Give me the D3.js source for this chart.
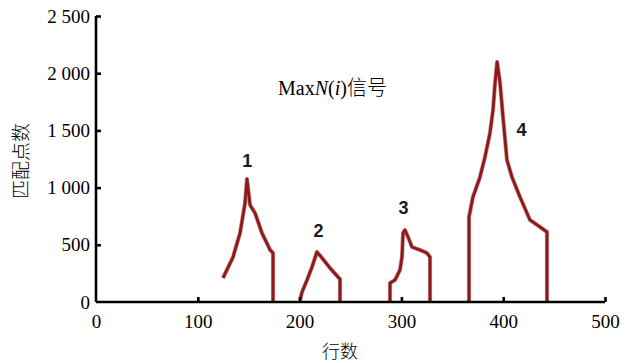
<!DOCTYPE html>
<html><head><meta charset="utf-8">
<script src="https://cdn.jsdelivr.net/npm/d3@7"></script>
<style>body{margin:0;background:#fff}svg{display:block}</style>
</head><body>
<svg id="c" width="630" height="363"></svg>
<script>
const xTicks = [0, 100, 200, 300, 400, 500];
const yTicks = [0, 500, 1000, 1500, 2000, 2500];
const peak1Rows = [124.8, 134.6, 141.5, 146.4, 148.3, 151.3, 156.2, 163, 171, 173.9, 173.9];
const peak1Vals = [210, 393, 603, 865, 1075, 848, 778, 603, 455, 428, 0];
const peak2Rows = [200.4, 202.4, 207.3, 212.2, 217, 222, 229.9, 237.7, 239.7, 239.7];
const peak2Vals = [17, 87, 192, 306, 437, 385, 297, 219, 201, 0];
const peak3Rows = [288.8, 288.8, 293.7, 298.6, 300.6, 301.6, 303.5, 306.5, 310.4, 318.3, 325.1, 328.1, 328.1];
const peak3Vals = [0, 166, 192, 280, 393, 603, 629, 568, 481, 455, 428, 393, 0];
const peak4Rows = [366.4, 366.4, 370.3, 377.2, 382.1, 387, 390, 392, 394, 396.9, 399.8, 403.7, 408.6, 416.5, 426.3, 436.1, 443, 443];
const peak4Vals = [0, 743, 918, 1093, 1267, 1477, 1678, 1914, 2098, 1914, 1617, 1241, 1093, 918, 717, 656, 612, 0];
const peakLabels = ["1", "2", "3", "4"];
const peakLabelRows = [148.5, 218.5, 302, 418];
const peakLabelVals = [1180, 565, 770, 1450];

const svg = d3.select("#c");
const x = d3.scaleLinear().domain([0, 500]).range([96, 605]);
const y = d3.scaleLinear().domain([0, 2500]).range([302, 16]);
const fmt = d => d3.format(",")(d).replace(/,/g, " ");

const peaks = [[peak1Rows, peak1Vals], [peak2Rows, peak2Vals], [peak3Rows, peak3Vals], [peak4Rows, peak4Vals]];
const line = d3.line().x(d => x(d[0])).y(d => y(d[1]));
peaks.forEach(([r, v]) => {
  const pts = r.map((d, i) => [d, v[i]]);
  svg.append("path").attr("d", line(pts)).attr("fill", "none")
    .attr("stroke", "#c98a8a").attr("stroke-width", 4.2).attr("stroke-linejoin", "round");
  svg.append("path").attr("d", line(pts)).attr("fill", "none")
    .attr("stroke", "#8b1a1a").attr("stroke-width", 2.8).attr("stroke-linejoin", "round");
});

// axes
const xAxis = d3.axisBottom(x).tickValues(xTicks).tickSize(-5).tickPadding(13).tickFormat(fmt);
const yAxis = d3.axisLeft(y).tickValues(yTicks).tickSize(-5).tickPadding(6).tickFormat(fmt);
const gx = svg.append("g").attr("transform", "translate(0,302)").call(xAxis);
const gy = svg.append("g").attr("transform", "translate(96,0)").call(yAxis);
[gx, gy].forEach(g => {
  g.select(".domain").attr("stroke", "#000").attr("stroke-width", 2.6);
  g.selectAll(".tick line").attr("stroke", "#000").attr("stroke-width", 2.6);
  g.selectAll("text").attr("font-family", "'Liberation Serif', serif").attr("font-size", 19).attr("fill", "#000");
});
gx.select(".domain").attr("d", "M96,0H605");
gy.select(".domain").attr("d", "M0,302V16");
gx.selectAll(".tick").filter(d => d === 0).select("line").remove();
gy.selectAll(".tick").filter(d => d === 0).select("line").remove();

// axis titles
svg.append("text").attr("x", 340).attr("y", 358).attr("text-anchor", "middle")
  .attr("font-family", "'Noto Sans CJK SC', sans-serif").attr("font-size", 18).attr("font-weight", 300).text("行数");
svg.append("text").attr("transform", "translate(28,161) rotate(-90)").attr("text-anchor", "middle")
  .attr("font-family", "'Noto Sans CJK SC', sans-serif").attr("font-size", 19).attr("font-weight", 300).text("匹配点数");

// annotation
const ann = svg.append("text").attr("x", 278).attr("y", 95)
  .attr("font-family", "'Liberation Serif', serif").attr("font-size", 20);
ann.append("tspan").text("Max");
ann.append("tspan").attr("font-style", "italic").text("N");
ann.append("tspan").text("(");
ann.append("tspan").attr("font-style", "italic").text("i");
ann.append("tspan").text(")");
ann.append("tspan").attr("font-family", "'Noto Sans CJK SC', sans-serif").attr("font-weight", 300).text("信号");

// peak labels
svg.selectAll(".pl").data(peakLabels).enter().append("text")
  .attr("x", (d, i) => x(peakLabelRows[i])).attr("y", (d, i) => y(peakLabelVals[i]))
  .attr("text-anchor", "middle").attr("font-family", "'Liberation Sans', sans-serif")
  .attr("font-weight", "bold").attr("font-size", 18).attr("fill", "#1a1a1a").text(d => d);
</script>
</body></html>
